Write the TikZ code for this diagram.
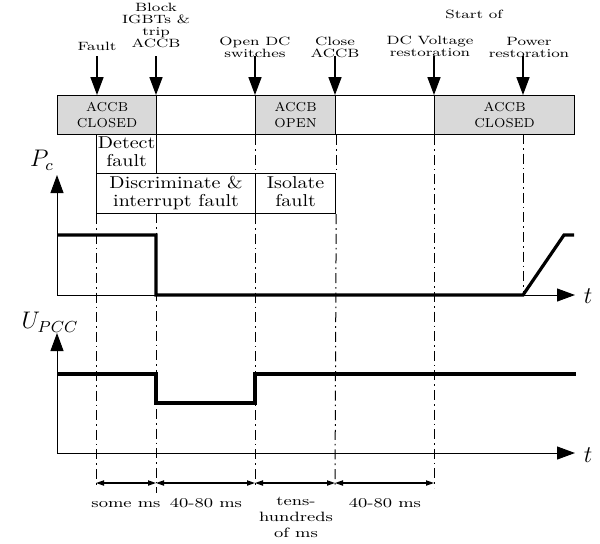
\documentclass[tikz,border=0pt]{standalone}
\usepackage{graphicx}
\usetikzlibrary{arrows.meta}
\definecolor{cellgray}{RGB}{217,217,217}
\newcommand{\sqz}[2]{\scalebox{1}[#1]{\begin{tabular}{@{}c@{}}#2\end{tabular}}}
\tikzset{
  toplbl/.style={inner sep=0pt, font=\fontsize{8}{8}\selectfont},
  cellbox/.style={draw, line width=0.6pt, inner sep=0pt, anchor=north west, minimum height=19.5pt, align=center, font=\fontsize{6.5}{8}\selectfont},
  grayc/.style={cellbox, fill=cellgray},
  phasebox/.style={draw, line width=0.6pt, inner sep=0pt, anchor=north west, font=\fontsize{10}{10.5}\selectfont},
  botlbl/.style={inner sep=0pt, font=\fontsize{9}{10.7}\selectfont},
  evarrow/.style={line width=0.8pt, -{Triangle[length=9pt,width=6.5pt]}},
  axisarrow/.style={line width=0.5pt, -{Triangle[length=9pt,width=6.5pt]}},
  dimarrow/.style={line width=0.6pt, {Triangle[length=4pt,width=2.6pt]}-{Triangle[length=4pt,width=2.6pt]}},
  dashdot/.style={line width=0.5pt, dash pattern=on 5pt off 2pt on 0.8pt off 2pt},
  signal/.style={line width=1.6pt, line join=miter},
  mathlbl/.style={inner sep=0pt, font=\fontsize{12}{14}\selectfont},
}
\begin{document}
\begin{tikzpicture}[x=0.5pt,y=-0.5pt]
\useasboundingbox (0,0) rectangle (600,543);

% top state cells
\node[grayc, minimum width=49.5pt] (c1) at (57,95) {ACCB\\CLOSED};
\node[cellbox, minimum width=49.5pt] (c2) at (156,95) {};
\node[grayc, minimum width=40pt] (c3) at (255,95) {ACCB\\OPEN};
\node[cellbox, minimum width=49.5pt] (c4) at (335,95) {};
\node[grayc, minimum width=70pt] (c5) at (434,95) {ACCB\\CLOSED};

% phase boxes
\node[phasebox, minimum width=30pt, minimum height=19.5pt] (d1) at (96,134) {\sqz{0.86}{Detect\\fault}};
\node[phasebox, minimum width=79.5pt, minimum height=20pt] (d2) at (96,173) {\sqz{0.86}{Discriminate \&\\interrupt fault}};
\node[phasebox, minimum width=40pt, minimum height=20pt] (d3) at (255,173) {\raisebox{-2pt}{\sqz{0.86}{Isolate\\fault}}};

% top event labels
\node[toplbl] (lF) at (97,48) {\sqz{0.75}{Fault}};
\node[toplbl] (lB) at (156,27) {\sqz{0.75}{Block\\IGBTs \&\\trip\\ACCB}};
\node[toplbl] (lO) at (255,49) {\sqz{0.75}{Open DC\\switches}};
\node[toplbl] (lC) at (335,49) {\sqz{0.75}{Close\\ACCB}};
\node[toplbl] (lV) at (430,48) {\sqz{0.75}{DC Voltage\\restoration}};
\node[toplbl] (lS) at (474,16) {\sqz{0.75}{Start of}};
\node[toplbl] (lP) at (529,49) {\sqz{0.75}{Power\\restoration}};

% event arrows
\coordinate (aF) at (97,56);
\coordinate (aB) at (156,56);
\coordinate (aO) at (255,56);
\coordinate (aC) at (335,56);
\coordinate (aV) at (434,56);
\coordinate (aP) at (523,56);
\draw[evarrow] (aF) -- (aF |- c1.north);
\draw[evarrow] (aB) -- (c2.north west);
\draw[evarrow] (aO) -- (c3.north west);
\draw[evarrow] (aC) -- (c4.north west);
\draw[evarrow] (aV) -- (c5.north west);
\draw[evarrow] (aP) -- (aP |- c5.north);

% dash-dot guide lines
\coordinate (vF) at (96,488);
\coordinate (vB) at (156,493);
\coordinate (vB0) at (156,213);
\coordinate (vO) at (255,488);
\coordinate (vC) at (335,488);
\coordinate (vV) at (434,488);
\coordinate (vP0) at (523,134);
\coordinate (vP) at (523,295);
\draw[dashdot] (d2.south west) -- (vF);
\draw[dashdot] (vB0) -- (vB);
\draw[dashdot] (c3.south west) -- (d3.north west);
\draw[dashdot] (d3.south west) -- (vO);
\draw[dashdot] (c3.south east) -- (d3.north east);
\draw[dashdot] (d3.south east) -- (vC);
\draw[dashdot] (c5.south west) -- (vV);
\draw[dashdot] (vP0) -- (vP);

% P_c plot
\coordinate (O1) at (57,295);
\coordinate (Y1) at (57,175);
\coordinate (X1) at (575,295);
\draw[axisarrow] (O1) -- (Y1);
\draw[axisarrow] (O1) -- (X1);
\node[mathlbl] (pc) at (42,160) {$P_c$};
\node[mathlbl] (t1) at (588,296) {$t$};
\draw[signal] (57,235) -- (156,235) -- (156,295) -- (523,295) -- (564,235) -- (574,235);

% U_PCC plot
\coordinate (O2) at (57,453);
\coordinate (Y2) at (57,333);
\coordinate (X2) at (575,453);
\draw[axisarrow] (O2) -- (Y2);
\draw[axisarrow] (O2) -- (X2);
\node[mathlbl] (upcc) at (50,322) {$U_{PCC}$};
\node[mathlbl] (t2) at (588,455) {$t$};
\draw[signal] (57,374) -- (156,374) -- (156,403) -- (255,403) -- (255,374) -- (576,374);

% duration arrows
\coordinate (m1) at (96,483);
\coordinate (m2) at (156,483);
\coordinate (m3) at (255,483);
\coordinate (m4) at (335,483);
\coordinate (m5) at (434,483);
\draw[dimarrow] (m1) -- (m2);
\draw[dimarrow] (m2) -- (m3);
\draw[dimarrow] (m3) -- (m4);
\draw[dimarrow] (m4) -- (m5);

\node[botlbl] (b1) at (126,504.5) {\sqz{0.75}{some ms}};
\node[botlbl] (b2) at (206,504.5) {\sqz{0.75}{40-80 ms}};
\node[botlbl] (b3) at (296,518) {\sqz{0.75}{tens-\\hundreds\\of ms}};
\node[botlbl] (b4) at (385,504.5) {\sqz{0.75}{40-80 ms}};
\end{tikzpicture}
\end{document}
